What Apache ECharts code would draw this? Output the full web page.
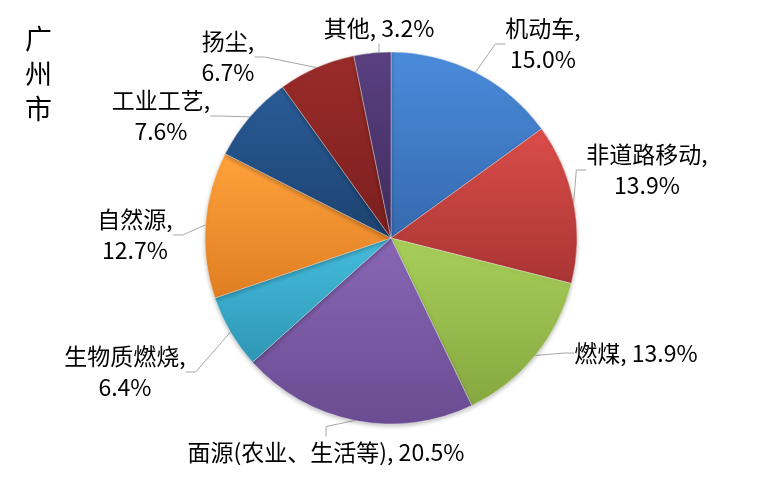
<!DOCTYPE html>
<html>
<head>
<meta charset="utf-8">
<script src="https://cdn.jsdelivr.net/npm/echarts@6/dist/echarts.min.js"></script>
<style>
  html, body { margin: 0; padding: 0; background: #fff; }
  #chart { width: 780px; height: 478px; }
</style>
</head>
<body>
<div id="chart"></div>
<script>
// 数据
const categories = ['机动车', '非道路移动', '燃煤', '面源(农业、生活等)', '生物质燃烧', '自然源', '工业工艺', '扬尘', '其他']
const shares = [15.0, 13.9, 13.9, 20.5, 6.4, 12.7, 7.6, 6.7, 3.2]

// 样式
const colorTop = ['#4A8CDB', '#DB4D4A', '#A8CF5A', '#8866B5', '#45BCDD', '#FFA23C', '#2A5C97', '#9A2C2A', '#5A4080']
const colorBottom = ['#3669AE', '#A93533', '#86A840', '#6A4C92', '#2F97B5', '#E07E22', '#1C426F', '#7A1F1E', '#3F2C5E']
// 标签位置 (中心点) 以及是否换行
const labelPos = [[543, 44], [647, 170], [636, 353], [326, 452], [125, 372], [135, 235], [161, 116], [228, 57], [379, 28]]
const twoLine = [true, true, false, false, true, true, true, true, false]

const chart = echarts.init(document.getElementById('chart'), null, { renderer: 'canvas' })

const fontFamily = '"Noto Sans CJK SC", "Liberation Sans", sans-serif'

const option = {
  animation: false,
  title: {
    text: '广\n州\n市',
    left: 20,
    top: 16,
    textStyle: {
      fontFamily: fontFamily,
      fontSize: 27,
      fontWeight: 'normal',
      lineHeight: 35,
      color: '#000'
    }
  },
  series: [{
    type: 'pie',
    center: [391, 238],
    radius: 186,
    startAngle: 90,
    clockwise: true,
    avoidLabelOverlap: false,
    itemStyle: {
      borderColor: 'rgba(255,255,255,0.35)',
      borderWidth: 1,
      shadowColor: 'rgba(0,0,0,0.25)',
      shadowBlur: 4,
      shadowOffsetY: 2
    },
    label: {
      show: true,
      color: '#000',
      fontFamily: fontFamily,
      fontSize: 23,
      lineHeight: 31,
      align: 'center',
      formatter: p => p.name + ',' + (twoLine[p.dataIndex] ? '\n' : ' ') + p.value.toFixed(1) + '%'
    },
    labelLine: {
      show: true,
      length: 10,
      length2: 10,
      lineStyle: { color: '#A6A6A6', width: 1 }
    },
    labelLayout: params => ({
      x: labelPos[params.dataIndex][0],
      y: labelPos[params.dataIndex][1],
      align: 'center',
      verticalAlign: 'middle'
    }),
    data: categories.map((name, i) => ({
      name: name,
      value: shares[i],
      itemStyle: {
        color: new echarts.graphic.LinearGradient(0, 0, 0, 1, [
          { offset: 0, color: colorTop[i] },
          { offset: 1, color: colorBottom[i] }
        ])
      }
    }))
  }]
}

chart.setOption(option)
</script>
</body>
</html>
